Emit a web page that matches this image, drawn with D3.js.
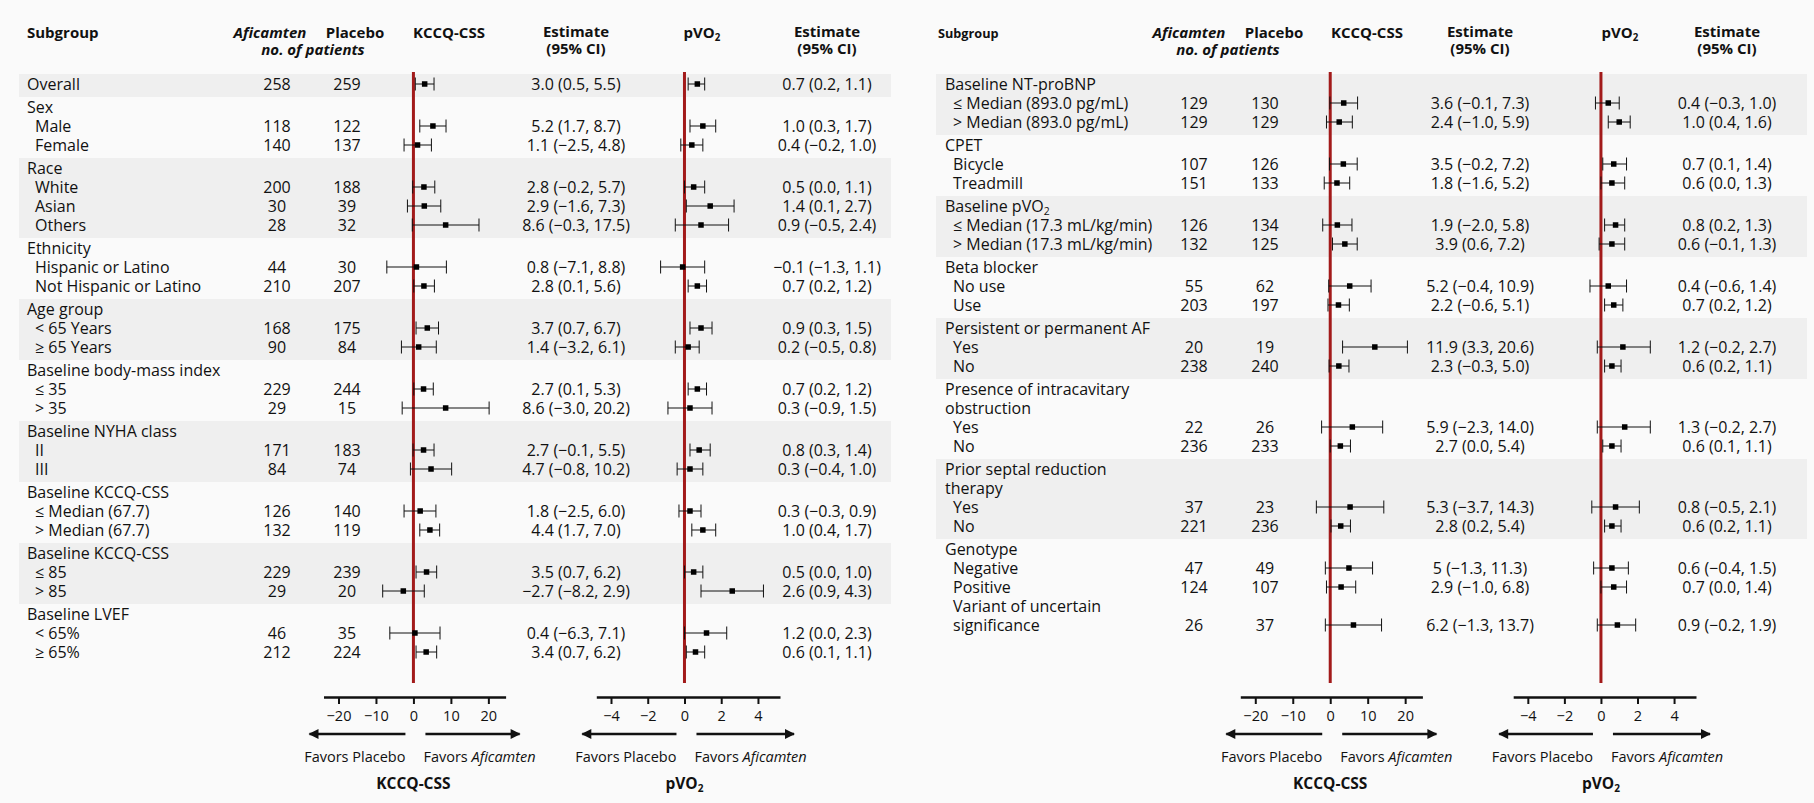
<!DOCTYPE html>
<html>
<head>
<meta charset="utf-8">
<script src="https://cdn.jsdelivr.net/npm/d3@7"></script>
<style>
body { margin: 0; background: #fafafa; }
text { font-family: "Open Sans", sans-serif; fill: #111; }
</style>
</head>
<body>
<script>
////////////////
// DATA       //
////////////////

// left panel
var leftGroups = [["Overall"], ["Sex"], ["Race"], ["Ethnicity"], ["Age group"],
	["Baseline body-mass index"], ["Baseline NYHA class"], ["Baseline KCCQ-CSS"],
	["Baseline KCCQ-CSS"], ["Baseline LVEF"]];
var leftRows = [[], ["Male", "Female"], ["White", "Asian", "Others"],
	["Hispanic or Latino", "Not Hispanic or Latino"], ["< 65 Years", "≥ 65 Years"],
	["≤ 35", "> 35"], ["II", "III"], ["≤ Median (67.7)", "> Median (67.7)"],
	["≤ 85", "> 85"], ["< 65%", "≥ 65%"]];
var leftAfi = [258, 118, 140, 200, 30, 28, 44, 210, 168, 90, 229, 29, 171, 84, 126, 132, 229, 29, 46, 212];
var leftPla = [259, 122, 137, 188, 39, 32, 30, 207, 175, 84, 244, 15, 183, 74, 140, 119, 239, 20, 35, 224];
var leftKccq = [[3.0, 0.5, 5.5], [5.2, 1.7, 8.7], [1.1, -2.5, 4.8], [2.8, -0.2, 5.7], [2.9, -1.6, 7.3],
	[8.6, -0.3, 17.5], [0.8, -7.1, 8.8], [2.8, 0.1, 5.6], [3.7, 0.7, 6.7], [1.4, -3.2, 6.1],
	[2.7, 0.1, 5.3], [8.6, -3.0, 20.2], [2.7, -0.1, 5.5], [4.7, -0.8, 10.2], [1.8, -2.5, 6.0],
	[4.4, 1.7, 7.0], [3.5, 0.7, 6.2], [-2.7, -8.2, 2.9], [0.4, -6.3, 7.1], [3.4, 0.7, 6.2]];
var leftPvo2 = [[0.7, 0.2, 1.1], [1.0, 0.3, 1.7], [0.4, -0.2, 1.0], [0.5, 0.0, 1.1], [1.4, 0.1, 2.7],
	[0.9, -0.5, 2.4], [-0.1, -1.3, 1.1], [0.7, 0.2, 1.2], [0.9, 0.3, 1.5], [0.2, -0.5, 0.8],
	[0.7, 0.2, 1.2], [0.3, -0.9, 1.5], [0.8, 0.3, 1.4], [0.3, -0.4, 1.0], [0.3, -0.3, 0.9],
	[1.0, 0.4, 1.7], [0.5, 0.0, 1.0], [2.6, 0.9, 4.3], [1.2, 0.0, 2.3], [0.6, 0.1, 1.1]];

// right panel
var rightGroups = [["Baseline NT-proBNP"], ["CPET"], ["Baseline pVO_2"], ["Beta blocker"],
	["Persistent or permanent AF"], ["Presence of intracavitary", "obstruction"],
	["Prior septal reduction", "therapy"], ["Genotype"]];
var rightRows = [["≤ Median (893.0 pg/mL)", "> Median (893.0 pg/mL)"], ["Bicycle", "Treadmill"],
	["≤ Median (17.3 mL/kg/min)", "> Median (17.3 mL/kg/min)"], ["No use", "Use"],
	["Yes", "No"], ["Yes", "No"], ["Yes", "No"],
	["Negative", "Positive", "Variant of uncertain\nsignificance"]];
var rightAfi = [129, 129, 107, 151, 126, 132, 55, 203, 20, 238, 22, 236, 37, 221, 47, 124, 26];
var rightPla = [130, 129, 126, 133, 134, 125, 62, 197, 19, 240, 26, 233, 23, 236, 49, 107, 37];
// point estimate kept as printed ("5" has no decimal in the source)
var rightKccq = [["3.6", -0.1, 7.3], ["2.4", -1.0, 5.9], ["3.5", -0.2, 7.2], ["1.8", -1.6, 5.2],
	["1.9", -2.0, 5.8], ["3.9", 0.6, 7.2], ["5.2", -0.4, 10.9], ["2.2", -0.6, 5.1],
	["11.9", 3.3, 20.6], ["2.3", -0.3, 5.0], ["5.9", -2.3, 14.0], ["2.7", 0.0, 5.4],
	["5.3", -3.7, 14.3], ["2.8", 0.2, 5.4], ["5", -1.3, 11.3], ["2.9", -1.0, 6.8], ["6.2", -1.3, 13.7]];
var rightPvo2 = [[0.4, -0.3, 1.0], [1.0, 0.4, 1.6], [0.7, 0.1, 1.4], [0.6, 0.0, 1.3],
	[0.8, 0.2, 1.3], [0.6, -0.1, 1.3], [0.4, -0.6, 1.4], [0.7, 0.2, 1.2],
	[1.2, -0.2, 2.7], [0.6, 0.2, 1.1], [1.3, -0.2, 2.7], [0.6, 0.1, 1.1],
	[0.8, -0.5, 2.1], [0.6, 0.2, 1.1], [0.6, -0.4, 1.5], [0.7, 0.0, 1.4], [0.9, -0.2, 1.9]];

// axis ticks
var kccqTicks = [-20, -10, 0, 10, 20];
var pvo2Ticks = [-4, -2, 0, 2, 4];
var kccqDomain = [-24, 24.6];
var pvo2Domain = [-4.8, 5.2];

////////////////
// SET UP     //
////////////////
var W = 1814, H = 803;
var rowH = 19, groupPad = 4, top0 = 74, lineBottom = 683;
var axisY = 697, arrowY = 734, favorsY = 762, titleY = 789;
var red = "#a21a1a";

var svg = d3.select("body").append("svg")
	.attr("width", W)
	.attr("height", H);

svg.append("defs").append("marker")
	.attr("id", "arrow")
	.attr("markerUnits", "userSpaceOnUse")
	.attr("viewBox", "0 0 10 10")
	.attr("refX", 9).attr("refY", 5)
	.attr("markerWidth", 11).attr("markerHeight", 10)
	.attr("orient", "auto")
	.append("path")
		.attr("d", "M0,0 L10,5 L0,10 z")
		.attr("fill", "#111");

var fmt = d3.format(".1f");
function estText(d) {
	var e = typeof d[0] === "string" ? d[0] : fmt(d[0]);
	return e + " (" + fmt(d[1]) + ", " + fmt(d[2]) + ")";
}

// "pVO_2" -> pVO with subscript 2
function richText(sel, str) {
	var parts = str.split("_");
	sel.append("tspan").text(parts[0]);
	if (parts.length > 1) {
		sel.append("tspan").attr("font-size", "0.65em").attr("dy", "0.3em").text(parts[1]);
	}
}

function drawPanel(c) {
	var g = svg.append("g");
	var x1 = d3.scaleLinear().domain(kccqDomain).range(c.kRange);
	var x2 = d3.scaleLinear().domain(pvo2Domain).range(c.pRange);

	// headers
	var hs = 15;
	g.append("text").attr("x", c.subX).attr("y", 38).attr("font-weight", "bold")
		.attr("font-size", c.subSize).text("Subgroup");
	g.append("text").attr("x", c.hAfiX).attr("y", 38).attr("text-anchor", "middle")
		.attr("font-weight", "bold").attr("font-style", "italic").attr("font-size", hs).text("Aficamten");
	g.append("text").attr("x", c.hPlaX).attr("y", 38).attr("text-anchor", "middle")
		.attr("font-weight", "bold").attr("font-size", hs).text("Placebo");
	g.append("text").attr("x", c.hNoX).attr("y", 55).attr("text-anchor", "middle")
		.attr("font-weight", "bold").attr("font-style", "italic").attr("font-size", hs).text("no. of patients");
	g.append("text").attr("x", c.hKX).attr("y", 38).attr("text-anchor", "middle")
		.attr("font-weight", "bold").attr("font-size", hs).text("KCCQ-CSS");
	richText(g.append("text").attr("x", c.hPX).attr("y", 38).attr("text-anchor", "middle")
		.attr("font-weight", "bold").attr("font-size", hs), "pVO_2");
	[c.kEstX, c.pEstX].forEach(function(x) {
		g.append("text").attr("x", x).attr("y", 37).attr("text-anchor", "middle")
			.attr("font-weight", "bold").attr("font-size", hs).text("Estimate");
		g.append("text").attr("x", x).attr("y", 54).attr("text-anchor", "middle")
			.attr("font-weight", "bold").attr("font-size", hs).text("(95% CI)");
	});

	// layout rows
	var bands = [], labels = [], dataRows = [];
	var y = top0;
	c.groups.forEach(function(gl, gi) {
		var li = 0, topY = y;
		gl.forEach(function(t) {
			labels.push({ text: t, x: c.labelX, y: topY + 10 + li * rowH });
			li++;
		});
		if (c.rows[gi].length === 0) {
			dataRows.push(topY + 10 + (li - 1) * rowH);
		}
		c.rows[gi].forEach(function(r) {
			r.split("\n").forEach(function(t) {
				labels.push({ text: t, x: c.labelX + 8, y: topY + 10 + li * rowH });
				li++;
			});
			dataRows.push(topY + 10 + (li - 1) * rowH);
		});
		var h = li * rowH + groupPad;
		bands.push({ y: topY, h: h, shade: gi % 2 === 0 });
		y += h;
	});

	g.selectAll(".band").data(bands.filter(function(d) { return d.shade; }))
		.enter().append("rect")
			.attr("x", c.bandX0).attr("width", c.bandX1 - c.bandX0)
			.attr("y", function(d) { return d.y; })
			.attr("height", function(d) { return d.h; })
			.attr("fill", "#efefef");

	g.selectAll(".lab").data(labels).enter().append("text")
		.attr("x", function(d) { return d.x; })
		.attr("y", function(d) { return d.y + 6; })
		.attr("font-size", 16)
		.each(function(d) { richText(d3.select(this), d.text); });

	var rows = dataRows.map(function(yy, i) {
		return { y: yy, afi: c.afi[i], pla: c.pla[i], k: c.kccq[i], p: c.pvo2[i] };
	});

	g.selectAll(".afi").data(rows).enter().append("text")
		.attr("x", c.afiX).attr("y", function(d) { return d.y + 6; })
		.attr("text-anchor", "middle").attr("font-size", 16)
		.text(function(d) { return d.afi; });
	g.selectAll(".pla").data(rows).enter().append("text")
		.attr("x", c.plaX).attr("y", function(d) { return d.y + 6; })
		.attr("text-anchor", "middle").attr("font-size", 16)
		.text(function(d) { return d.pla; });
	g.selectAll(".kest").data(rows).enter().append("text")
		.attr("x", c.kEstX).attr("y", function(d) { return d.y + 6; })
		.attr("text-anchor", "middle").attr("font-size", 16)
		.text(function(d) { return estText(d.k); });
	g.selectAll(".pest").data(rows).enter().append("text")
		.attr("x", c.pEstX).attr("y", function(d) { return d.y + 6; })
		.attr("text-anchor", "middle").attr("font-size", 16)
		.text(function(d) { return estText(d.p); });

	// forest columns
	[[x1, "k", kccqTicks, "KCCQ-CSS"], [x2, "p", pvo2Ticks, "pVO_2"]].forEach(function(f) {
		var sc = f[0], key = f[1], zero = sc(0);
		var r0 = sc.range()[0], r1 = sc.range()[1];

		g.append("line").attr("x1", zero).attr("x2", zero)
			.attr("y1", top0 - 2).attr("y2", lineBottom)
			.attr("stroke", red).attr("stroke-width", 3);

		var ci = g.selectAll(".ci" + key).data(rows).enter().append("g")
			.attr("transform", function(d) { return "translate(0," + d.y + ")"; });
		ci.append("line")
			.attr("x1", function(d) { return sc(d[key][1]); })
			.attr("x2", function(d) { return sc(d[key][2]); })
			.attr("stroke", "#111").attr("stroke-width", 1);
		[1, 2].forEach(function(j) {
			ci.append("line")
				.attr("x1", function(d) { return sc(d[key][j]); })
				.attr("x2", function(d) { return sc(d[key][j]); })
				.attr("y1", -6.5).attr("y2", 6.5)
				.attr("stroke", "#111").attr("stroke-width", 1);
		});
		ci.append("rect")
			.attr("x", function(d) { return sc(+d[key][0]) - 2.75; })
			.attr("y", -2.75).attr("width", 5.5).attr("height", 5.5)
			.attr("fill", "#000");

		// bottom axis
		var ax = g.append("g").attr("transform", "translate(0," + axisY + ")")
			.call(d3.axisBottom(sc).tickValues(f[2]).tickSize(7).tickSizeOuter(0).tickPadding(7));
		ax.select(".domain").attr("stroke", "#111").attr("stroke-width", 2.5);
		ax.selectAll(".tick line").attr("stroke", "#111").attr("stroke-width", 2);
		ax.selectAll(".tick text").attr("font-size", 14.5).attr("fill", "#111")
			.attr("font-family", "'Open Sans', sans-serif");

		g.append("line").attr("x1", zero - 8).attr("x2", r0 - 14)
			.attr("y1", arrowY).attr("y2", arrowY)
			.attr("stroke", "#111").attr("stroke-width", 2.5).attr("marker-end", "url(#arrow)");
		g.append("line").attr("x1", zero + 12).attr("x2", r1 + 14)
			.attr("y1", arrowY).attr("y2", arrowY)
			.attr("stroke", "#111").attr("stroke-width", 2.5).attr("marker-end", "url(#arrow)");

		g.append("text").attr("x", zero - 8).attr("y", favorsY).attr("text-anchor", "end")
			.attr("font-size", 14.5).text("Favors Placebo");
		var fa = g.append("text").attr("x", zero + 10).attr("y", favorsY).attr("font-size", 14.5);
		fa.append("tspan").text("Favors ");
		fa.append("tspan").attr("font-style", "italic").text("Aficamten");

		richText(g.append("text").attr("x", zero).attr("y", titleY).attr("text-anchor", "middle")
			.attr("font-weight", "bold").attr("font-size", 15.5), f[3]);
	});
}

drawPanel({
	groups: leftGroups, rows: leftRows, afi: leftAfi, pla: leftPla, kccq: leftKccq, pvo2: leftPvo2,
	bandX0: 19, bandX1: 891, labelX: 27, afiX: 277, plaX: 347,
	kRange: [323.5, 505.6], pRange: [596.3, 780], kEstX: 576, pEstX: 827,
	subX: 27, subSize: 15, hAfiX: 270, hPlaX: 355, hNoX: 313, hKX: 449, hPX: 702
});
drawPanel({
	groups: rightGroups, rows: rightRows, afi: rightAfi, pla: rightPla, kccq: rightKccq, pvo2: rightPvo2,
	bandX0: 936, bandX1: 1807, labelX: 945, afiX: 1194, plaX: 1265,
	kRange: [1240.3, 1422.4], pRange: [1513.2, 1696], kEstX: 1480, pEstX: 1727,
	subX: 938, subSize: 12.7, hAfiX: 1189, hPlaX: 1274, hNoX: 1228, hKX: 1367, hPX: 1620
});
</script>
</body>
</html>
